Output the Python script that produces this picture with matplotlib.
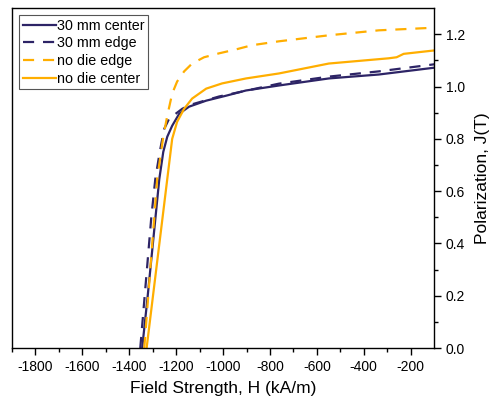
import numpy as np
import matplotlib.pyplot as plt

plt.rcParams['font.family'] = ['Liberation Sans', 'DejaVu Sans']
plt.rcParams['axes.unicode_minus'] = False

# 30 mm die, center
h_30c = [-1345, -1323, -1272, -1255, -1238, -1217, -1187, -1145, -1072, -987, -902, -762, -549, -336, -100]
j_30c = [0.0, 0.185, 0.646, 0.75, 0.808, 0.85, 0.896, 0.923, 0.946, 0.965, 0.985, 1.004, 1.031, 1.046, 1.072]

# 30 mm die, edge
h_30e = [-1353, -1306, -1289, -1270, -1251, -1230, -1174, -1140, -1017, -762, -549, -336, -100]
j_30e = [0.0, 0.5, 0.646, 0.75, 0.838, 0.877, 0.915, 0.93, 0.962, 1.011, 1.038, 1.058, 1.085]

# no die, edge
h_ne = [-1336, -1281, -1255, -1238, -1217, -1196, -1166, -1132, -1081, -1017, -945, -877, -762, -549, -336, -100]
j_ne = [0.0, 0.646, 0.808, 0.888, 0.973, 1.019, 1.058, 1.088, 1.112, 1.127, 1.142, 1.158, 1.173, 1.196, 1.215, 1.225]

# no die, center
h_nc = [-1326, -1238, -1217, -1196, -1166, -1132, -1072, -1004, -902, -762, -549, -294, -260, -230, -100]
j_nc = [0.0, 0.646, 0.8, 0.865, 0.915, 0.954, 0.992, 1.012, 1.031, 1.05, 1.088, 1.108, 1.112, 1.125, 1.138]

purple = '#2d2466'
orange = '#ffae00'

fig = plt.figure(figsize=(4.9, 4.05), dpi=100)
ax = fig.add_axes([0.0245, 0.1407, 0.8615, 0.8393])

ax.plot(h_30c, j_30c, color=purple, lw=1.6, label='30 mm center')
ax.plot(h_30e, j_30e, color=purple, lw=1.6, dashes=(5, 4), label='30 mm edge')
ax.plot(h_ne, j_ne, color=orange, lw=1.6, dashes=(5, 4), label='no die edge')
ax.plot(h_nc, j_nc, color=orange, lw=1.6, label='no die center')

ax.set_xlim(-1900, -100)
ax.set_ylim(0, 1.3)
ax.set_xticks(np.arange(-1800, -100, 200))
ax.set_xticks(np.arange(-1900, -100, 100), minor=True)
ax.set_yticks(np.arange(0, 1.21, 0.2))
ax.set_yticks(np.arange(0.1, 1.3, 0.1), minor=True)
ax.yaxis.tick_right()
ax.yaxis.set_label_position('right')
ax.tick_params(which='major', length=5, width=1, labelsize=10, direction='out')
ax.tick_params(which='minor', length=3, width=1, direction='out')
ax.tick_params(axis='y', which='both', left=False, right=True)

ax.set_xlabel('Field Strength, H (kA/m)', fontsize=12.5, labelpad=5)
ax.set_ylabel('Polarization, J(T)', fontsize=12.5, labelpad=7)

for s in ax.spines.values():
    s.set_linewidth(1.0)

leg = ax.legend(loc='upper left', fontsize=10.3, fancybox=False, edgecolor='#555555',
                framealpha=1, borderpad=0.25, labelspacing=0.25, handlelength=2.3,
                handletextpad=0.1, borderaxespad=0.5)
leg.get_frame().set_linewidth(0.8)

fig.savefig('out.png', dpi=100)
